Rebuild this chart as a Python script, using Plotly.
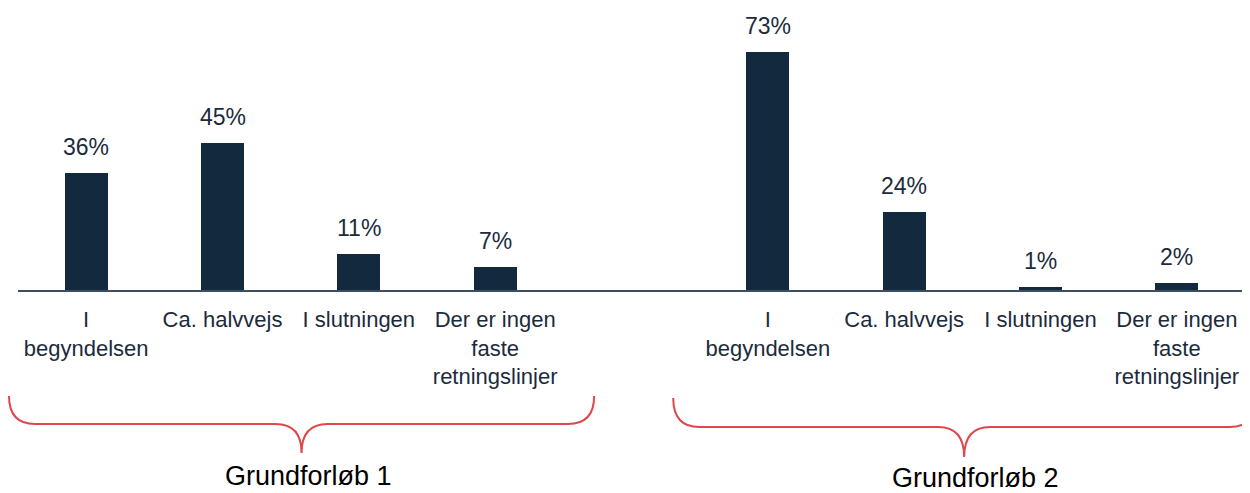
import plotly.graph_objects as go

# ---- data ----
categories = ["I<br>begyndelsen", "Ca. halvvejs", "I slutningen",
              "Der er ingen<br>faste<br>retningslinjer"]
groups = ["Grundforløb 1", "Grundforløb 2"]
values_gf1 = [36, 45, 11, 7]
values_gf2 = [73, 24, 1, 2]

# ---- layout geometry (figure coords; page has an 8px body margin) ----
OFF = 8
W, H = 1242, 485
ML, MR, MT, MB = 10, 5, 2, 203
PLOT_W = W - ML - MR
PLOT_H = H - MT - MB
N_SLOTS = len(categories) * 2 + 1   # one empty slot between groups
Y_MAX = 86

BAR_COLOR = "#13293d"
TEXT_COLOR = "#1b2b3c"
BRACE_COLOR = "#e0474b"
FONT = "Liberation Sans, Arial, sans-serif"

x1 = list(range(len(categories)))
x2 = [len(categories) + 1 + i for i in range(len(categories))]
xs = x1 + x2
ys = values_gf1 + values_gf2
labels = categories + categories


def px_x(xd):
    """category index -> paper x"""
    return (xd + 0.5) / N_SLOTS


def py(pix):
    """page pixel y -> paper y"""
    return (H - MB - (pix - OFF)) / PLOT_H


fig = go.Figure()
fig.add_trace(go.Bar(x=xs, y=ys, width=0.316, marker_color=BAR_COLOR,
                     marker_line_width=0, showlegend=False, hoverinfo="skip"))

# value labels
for x, v in zip(xs, ys):
    fig.add_annotation(x=x, y=v, xref="x", yref="y", text=f"{v}%",
                       showarrow=False, yanchor="bottom", yshift=11,
                       font=dict(family=FONT, size=23, color=TEXT_COLOR))


def brace(left, right, mid, y_top, y_mid, y_tip, r):
    return (f"M {left} {y_top} Q {left} {y_mid} {left + r} {y_mid} "
            f"L {mid - r} {y_mid} Q {mid} {y_mid} {mid} {y_tip} "
            f"Q {mid} {y_mid} {mid + r} {y_mid} "
            f"L {right - r} {y_mid} Q {right} {y_mid} {right} {y_top}")


r = 26 / PLOT_W
b1 = brace(px_x(x1[0] - 0.566), px_x(x1[-1] + 0.726), px_x((x1[0] + x1[-1]) / 2 + 0.08),
           py(396), py(424), py(453), r)
b2 = brace(px_x(x2[0] - 0.694), px_x(x2[-1] + 0.58), px_x((x2[0] + x2[-1]) / 2 - 0.06),
           py(398), py(427), py(457), r)
for p in (b1, b2):
    fig.add_shape(type="path", path=p, xref="paper", yref="paper",
                  line=dict(color=BRACE_COLOR, width=2))

fig.add_annotation(x=px_x((x1[0] + x1[-1]) / 2 + 0.13), y=py(476), xref="paper", yref="paper",
                   xanchor="center", yanchor="middle",
                   text=groups[0], showarrow=False,
                   font=dict(family=FONT, size=27, color="#000000"))
fig.add_annotation(x=px_x((x2[0] + x2[-1]) / 2 + 0.02), y=py(478), xref="paper", yref="paper",
                   xanchor="center", yanchor="middle", borderpad=0,
                   text=groups[1], showarrow=False,
                   font=dict(family=FONT, size=27, color="#000000"))

fig.update_layout(
    width=W, height=H,
    margin=dict(l=ML, r=MR, t=MT, b=MB),
    paper_bgcolor="white", plot_bgcolor="white",
    bargap=0,
    font=dict(family=FONT, color=TEXT_COLOR),
    xaxis=dict(range=[-0.5, N_SLOTS - 0.5], tickmode="array", tickvals=xs,
               ticktext=labels, tickangle=0, showgrid=False, zeroline=False,
               showline=True, linecolor="#3b4e63", linewidth=1.5, ticks="",
               ticklabelstandoff=9,
               tickfont=dict(family=FONT, size=22, color=TEXT_COLOR)),
    yaxis=dict(range=[0, Y_MAX], visible=False, showgrid=False, zeroline=False),
)

fig.write_html("out.html")
